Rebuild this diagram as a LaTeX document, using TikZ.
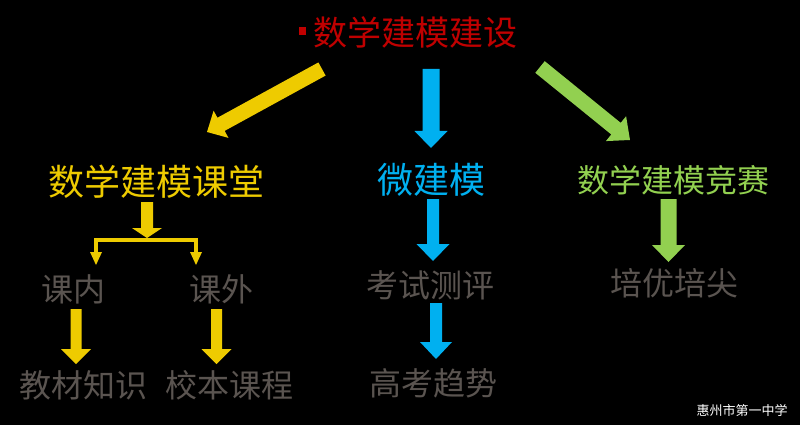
\documentclass[tikz,border=0pt]{standalone}
\usepackage{fontspec}
\newfontfamily\cjk{Noto Sans CJK SC}
\usetikzlibrary{calc}
\definecolor{ttred}{HTML}{C00000}
\definecolor{tyel}{HTML}{EECB00}
\definecolor{tblue}{HTML}{00B0F0}
\definecolor{tgreen}{HTML}{92D050}
\definecolor{tgray}{HTML}{5A5450}
% #1 start, #2 tip, #3 shaft width, #4 head width, #5 head length, #6 colour
\newcommand\blkarrow[6]{%
  \fill[#6] let \p1=($(#2)-(#1)$), \n1={veclen(\x1,\y1)}, \n2={atan2(\y1,\x1)} in
   [shift={(#1)}, rotate=\n2] (0,-#3/2) -- (\n1-#5,-#3/2) -- (\n1-#5,-#4/2) -- (\n1,0)
   -- (\n1-#5,#4/2) -- (\n1-#5,#3/2) -- (0,#3/2) -- cycle;}
\begin{document}
\begin{tikzpicture}[x=1pt,y=-1pt,
  txt/.style={inner sep=0pt, font=\cjk\fontsize{#1}{#1}\selectfont},
  head/.style={txt=#1},
  sub/.style={txt=32, text=tgray},
  brk/.style={draw=tyel, line width=4pt}]
\fill[black] (0,0) rectangle (800,425);
\useasboundingbox (0,0) rectangle (800,425);
% texts
\node[txt=34, text=ttred] (title) at (415.5,32) {数学建模建设};
\fill[ttred] (299,27) rectangle (306,35);
\node[txt=36, text=tyel] (kt) at (156,182) {数学建模课堂};
\node[txt=36, text=tblue] (wjm) at (431,180) {微建模};
\node[txt=32, text=tgreen] (js) at (673.5,180) {数学建模竞赛};
\node[sub] (kn) at (73.5,289) {课内};
\node[sub] (kw) at (221.5,289) {课外};
\node[sub] (jc) at (83.5,385) {教材知识};
\node[sub] (xb) at (229,385) {校本课程};
\node[sub] (ks) at (430,285) {考试测评};
\node[sub] (gk) at (433.5,383) {高考趋势};
\node[sub] (py) at (674,283) {培优培尖};
\node[txt=13, text=white] (wm) at (742,411) {惠州市第一中学};
% arrow end points
\coordinate (a1s) at (322,69);  \coordinate (a1e) at (207,132);
\coordinate (a2s) at (431,69);  \coordinate (a2e) at (431,148);
\coordinate (a3s) at (540,67);  \coordinate (a3e) at (630,140);
\coordinate (b1s) at (147,202); \coordinate (b1e) at (147,238);
\coordinate (c1s) at (76,309);  \coordinate (c1e) at (76,364);
\coordinate (c2s) at (216.5,309); \coordinate (c2e) at (216.5,364);
\coordinate (d1s) at (433,199); \coordinate (d1e) at (433,261);
\coordinate (d2s) at (436,303); \coordinate (d2e) at (436,359);
\coordinate (e1s) at (668.5,199); \coordinate (e1e) at (668.5,262);
\coordinate (bl) at (96,239.5); \coordinate (br) at (196,239.5);
\coordinate (bld) at (96,254); \coordinate (brd) at (196,254);
% arrows
\blkarrow{a1s}{a1e}{15}{31}{16}{tyel}
\blkarrow{a2s}{a2e}{17}{33}{17}{tblue}
\blkarrow{a3s}{a3e}{15}{32}{18}{tgreen}
\blkarrow{b1s}{b1e}{12}{30}{10}{tyel}
\blkarrow{c1s}{c1e}{11}{30}{15}{tyel}
\blkarrow{c2s}{c2e}{11}{30}{15}{tyel}
\blkarrow{d1s}{d1e}{12}{33}{17}{tblue}
\blkarrow{d2s}{d2e}{12}{32}{17}{tblue}
\blkarrow{e1s}{e1e}{16}{33}{17}{tgreen}
% bracket
\draw[brk, line join=miter] (bld) -- (bl) -- (br) -- (brd);
\fill[tyel] (90,252) -- (102,252) -- (96,265) -- cycle;
\fill[tyel] (190,252) -- (202,252) -- (196,265) -- cycle;
\end{tikzpicture}
\end{document}
